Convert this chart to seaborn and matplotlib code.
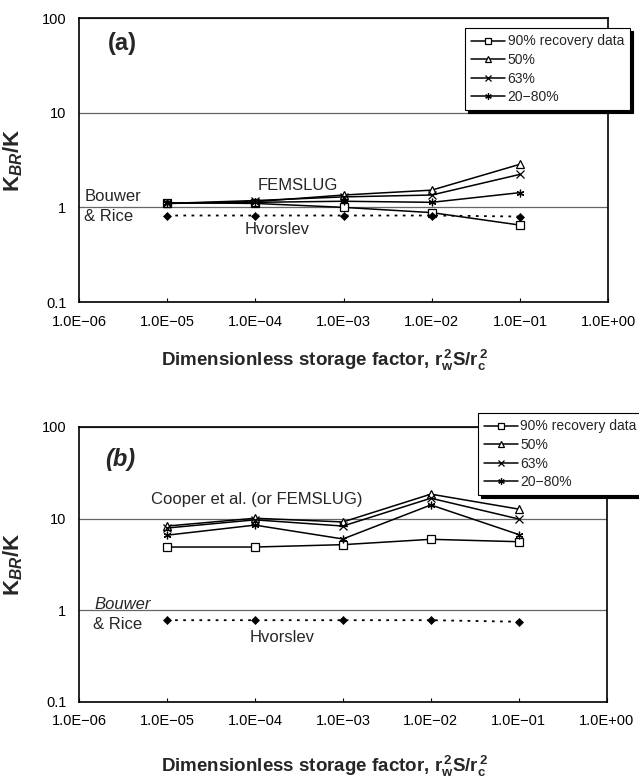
"""
Slug-test ratio K_BR/K versus dimensionless storage factor, two panels.
"""

import matplotlib
matplotlib.use("Agg")
import matplotlib.pyplot as plt
import seaborn as sns

STORAGE = [1e-5, 1e-4, 1e-3, 1e-2, 1e-1]
SERIES = ["90% recovery data", "50%", "63%", "20\u221280%"]
X_TICKS = [1e-6, 1e-5, 1e-4, 1e-3, 1e-2, 1e-1, 1e0]
X_TICK_LABELS = ["1.0E\u221206", "1.0E\u221205", "1.0E\u221204", "1.0E\u221203",
                 "1.0E\u221202", "1.0E\u221201", "1.0E+00"]
Y_TICKS = [0.1, 1, 10, 100]
Y_TICK_LABELS = ["0.1", "1", "10", "100"]

# panel (a)
A_90 = [1.12, 1.10, 1.00, 0.88, 0.65]
A_50 = [1.10, 1.15, 1.35, 1.52, 2.85]
A_63 = [1.10, 1.18, 1.29, 1.35, 2.23]
A_2080 = [1.10, 1.13, 1.16, 1.13, 1.43]
A_HVORSLEV = [0.82, 0.82, 0.82, 0.82, 0.80]

# panel (b)
B_90 = [4.9, 4.9, 5.2, 5.95, 5.6]
B_50 = [8.3, 10.1, 9.2, 18.5, 12.7]
B_63 = [7.9, 9.7, 8.3, 16.7, 9.9]
B_2080 = [6.6, 8.5, 6.0, 14.1, 6.7]
B_HVORSLEV = [0.78, 0.78, 0.78, 0.78, 0.75]

MARKERS = ["s", "^", "x", (6, 2, 0)]

sns.set_style("ticks")
plt.rcParams["font.family"] = ["Liberation Sans", "DejaVu Sans"]
plt.rcParams["mathtext.fontset"] = "custom"
plt.rcParams["mathtext.rm"] = "Liberation Sans"
plt.rcParams["mathtext.it"] = "Liberation Sans:italic"
plt.rcParams["mathtext.bf"] = "Liberation Sans:bold"
plt.rcParams["mathtext.bfit"] = "Liberation Sans:bold:italic"


def draw_panel(ax, curves, hvorslev, legend_anchor):
    handles = []
    for values, marker in zip(curves, MARKERS):
        sns.lineplot(x=STORAGE, y=values, color="black", lw=1.1, marker=marker,
                     ms=5.5, mfc="white", mec="black", mew=0.9,
                     legend=False, ax=ax)
        handles.append(ax.lines[-1])
    sns.lineplot(x=STORAGE, y=hvorslev, color="black", lw=1.3, ls=(0, (1.5, 3)),
                 marker="D", ms=4.5, mec="black", mew=0.5, legend=False, ax=ax)

    ax.set_xscale("log")
    ax.set_yscale("log")
    ax.set_xlim(1e-6, 1e0)
    ax.set_ylim(0.1, 100)
    ax.set_xticks(X_TICKS)
    ax.set_xticklabels(X_TICK_LABELS)
    ax.set_yticks(Y_TICKS)
    ax.set_yticklabels(Y_TICK_LABELS)
    ax.minorticks_off()
    ax.tick_params(axis="x", direction="in", length=3, width=0.8, pad=9,
                   labelsize=10.5, colors="black")
    ax.tick_params(axis="y", length=0, pad=9, labelsize=10.5, colors="black")
    ax.grid(axis="y", color="0.4", lw=0.9)
    ax.grid(axis="x", visible=False)
    for side in ax.spines.values():
        side.set_color("black")
        side.set_linewidth(1.2)

    ax.set_ylabel(r"$\mathbf{K}_{\mathbfit{BR}}\mathbf{/K}$", fontsize=16)
    ax.yaxis.set_label_coords(-0.102, 0.5)
    ax.set_xlabel(r"Dimensionless storage factor, $\mathbf{r_w^{\,2}S/r_c^{\,2}}$",
                  fontsize=13.5, fontweight="bold")

    leg = ax.legend(handles, SERIES, loc="upper left",
                    bbox_to_anchor=legend_anchor,
                    bbox_transform=ax.figure.transFigure,
                    fontsize=10, frameon=True, fancybox=False,
                    shadow={"color": "black", "alpha": 1},
                    edgecolor="black", framealpha=1, borderpad=0.45,
                    borderaxespad=0, labelspacing=0.33, handlelength=2.4,
                    handletextpad=0.2, markerscale=0.85)
    leg.get_frame().set_linewidth(0.8)
    leg.set_zorder(10)


fig = plt.figure(figsize=(6.39, 7.81), dpi=100)
ax_a = fig.add_axes([0.1236, 0.6133, 0.828, 0.3636])
ax_b = fig.add_axes([0.1236, 0.1012, 0.826, 0.3521])

# --- Panel (a) ---
draw_panel(ax_a, [A_90, A_50, A_63, A_2080], A_HVORSLEV, (0.728, 0.964))
ax_a.xaxis.set_label_coords(0.465, -0.205)
ax_a.xaxis.label.set_va("center")
ax_a.text(0.082, 0.912, "(a)", transform=ax_a.transAxes, fontsize=17,
          fontweight="bold", ha="center", va="center")
ax_a.text(0.414, 0.412, "FEMSLUG", transform=ax_a.transAxes, fontsize=12,
          ha="center", va="center")
ax_a.text(0.01, 0.37, "Bouwer", transform=ax_a.transAxes, fontsize=12,
          ha="left", va="center")
ax_a.text(0.01, 0.30, "& Rice", transform=ax_a.transAxes, fontsize=12,
          ha="left", va="center")
ax_a.text(0.374, 0.254, "Hvorslev", transform=ax_a.transAxes, fontsize=12,
          ha="center", va="center")

# --- Panel (b) ---
draw_panel(ax_b, [B_90, B_50, B_63, B_2080], B_HVORSLEV, (0.748, 0.471))
ax_b.xaxis.set_label_coords(0.465, -0.236)
ax_b.xaxis.label.set_va("center")
ax_b.text(0.078, 0.88, "(b)", transform=ax_b.transAxes, fontsize=17,
          fontweight="bold", fontstyle="italic", ha="center", va="center")
ax_b.text(0.336, 0.735, "Cooper et al. (or FEMSLUG)", transform=ax_b.transAxes,
          fontsize=12, ha="center", va="center")
ax_b.text(0.03, 0.353, "Bouwer", transform=ax_b.transAxes, fontsize=12,
          fontstyle="italic", ha="left", va="center")
ax_b.text(0.027, 0.28, "& Rice", transform=ax_b.transAxes, fontsize=12,
          ha="left", va="center")
ax_b.text(0.384, 0.233, "Hvorslev", transform=ax_b.transAxes, fontsize=12,
          ha="center", va="center")

fig.savefig("out.png", dpi=100)
plt.close(fig)
